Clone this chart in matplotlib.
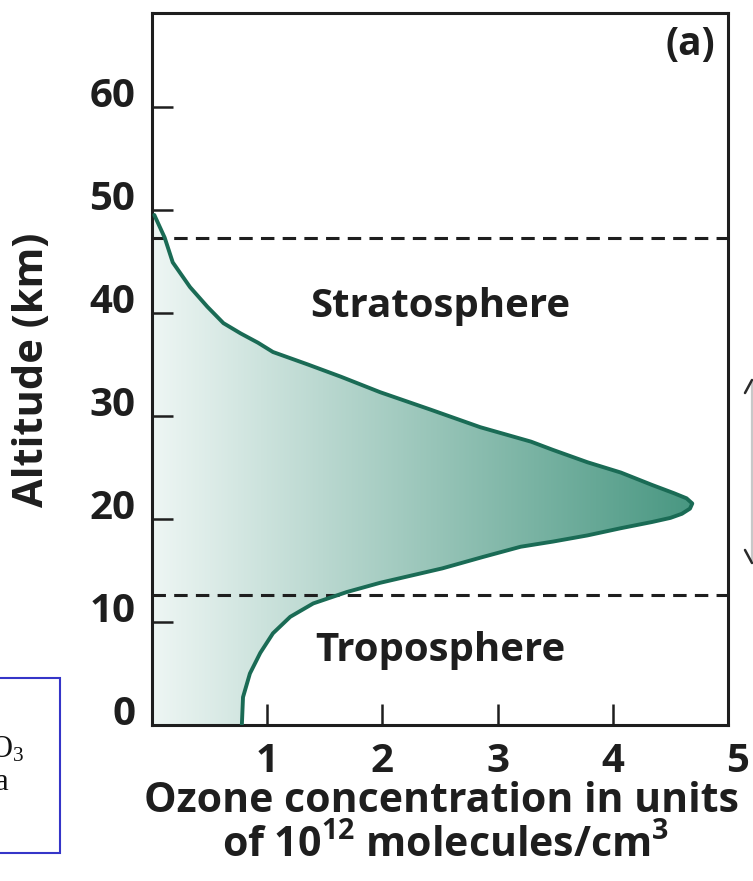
import numpy as np
import matplotlib
matplotlib.use('Agg')
import matplotlib.pyplot as plt
from matplotlib.colors import LinearSegmentedColormap
from matplotlib.patches import Polygon, Rectangle
from matplotlib.lines import Line2D
from matplotlib.transforms import ScaledTranslation

plt.rcParams['mathtext.default'] = 'regular'

# Ozone profile: altitude (km) vs concentration (10^12 molecules/cm^3)
altitude = [49.5, 47.3, 44.9, 42.5, 40.6, 39.0, 38.0, 37.1, 36.2, 35.0, 33.8,
            32.3, 30.6, 28.9, 27.5, 26.7, 25.5, 24.5, 23.3, 22.5, 22.0, 21.5,
            21.0, 20.5, 20.1, 19.7, 19.1, 18.4, 17.8, 17.3, 16.3, 15.2, 13.8,
            12.9, 11.8, 10.5, 8.9, 7.0, 5.0, 2.7, 0.0]
concentration = [0.02, 0.11, 0.18, 0.33, 0.48, 0.62, 0.77, 0.92, 1.05, 1.35, 1.64,
                 1.98, 2.42, 2.85, 3.29, 3.48, 3.78, 4.07, 4.34, 4.53, 4.64, 4.69,
                 4.67, 4.60, 4.50, 4.34, 4.07, 3.78, 3.48, 3.20, 2.87, 2.52, 1.98,
                 1.69, 1.40, 1.20, 1.05, 0.94, 0.85, 0.79, 0.78]

stratopause = 47.3
tropopause = 12.6

yticks = [0, 10, 20, 30, 40, 50, 60]
xticks = [1, 2, 3, 4, 5]

W, H = 753, 881
font = 'Open Sans'
ink = '#1e1e1e'
curve_col = '#1a6b55'

fig = plt.figure(figsize=(W / 100, H / 100), dpi=100, facecolor='white')
ax = fig.add_axes([152 / W, 1 - 725 / H, (728 - 152) / W, (725 - 13) / H])

# gradient fill under the profile (pale at the axis, deep teal at the peak)
cmap = LinearSegmentedColormap.from_list('ozone', ['#eef6f4', '#45957f'])
grad = np.linspace(0, 1, 256).reshape(1, -1)
img = ax.imshow(grad, cmap=cmap, extent=[0, 4.8, 0, 50], aspect='auto',
                origin='lower', zorder=1, interpolation='bicubic')
verts = [(0, altitude[0])] + list(zip(concentration, altitude)) + [(0, 0)]
clip = Polygon(verts, closed=True, transform=ax.transData, facecolor='none',
               edgecolor='none')
ax.add_patch(clip)
img.set_clip_path(clip)
ax.set_xlim(0, 5)
ax.set_ylim(0, 69.1)

ax.plot(concentration, altitude, color=curve_col, lw=2.8, zorder=3,
        solid_joinstyle='round', solid_capstyle='round')

for lvl in (stratopause, tropopause):
    ln, = ax.plot([0, 5], [lvl, lvl], color=ink, lw=2.2, zorder=2)
    ln.set_dashes((4.4, 2.7))

for s in ax.spines.values():
    s.set_linewidth(2.2)
    s.set_color(ink)

ax.set_xticks(xticks)
ax.set_yticks(yticks)
ax.tick_params(direction='in', length=15, width=1.8, color=ink,
               labelsize=29, labelcolor=ink)
ax.tick_params(axis='y', pad=12)
ax.tick_params(axis='x', pad=12)
for lab in ax.get_yticklabels() + ax.get_xticklabels():
    lab.set_fontfamily(font)
    lab.set_fontweight('bold')
for lab in ax.get_yticklabels():
    lab.set_va('baseline')
# the "5" sits a little right of the frame corner
last = ax.get_xticklabels()[-1]
last.set_transform(last.get_transform() +
                   ScaledTranslation(10 / 100, 0, fig.dpi_scale_trans))

txt = dict(fontfamily=font, fontweight='bold', color=ink)
ax.text(0.5, (725 - 306) / 712, 'Stratosphere', transform=ax.transAxes,
        ha='center', va='center', fontsize=29, **txt)
ax.text(0.5, (725 - 650) / 712, 'Troposphere', transform=ax.transAxes,
        ha='center', va='center', fontsize=29, **txt)
ax.text((690 - 152) / 576, (725 - 45) / 712, '(a)', transform=ax.transAxes,
        ha='center', va='center', fontsize=28, **txt)

fig.text(33 / W, 1 - 370 / H, 'Altitude (km)', rotation=90, ha='center',
         va='center', fontsize=30, **txt)
fig.text(442 / W, 1 - 802 / H, 'Ozone concentration in units', ha='center',
         va='center', fontsize=29.5, **txt)
fig.text(446 / W, 1 - 846 / H, 'of 10$^{12}$ molecules/cm$^{3}$', ha='center',
         va='center', fontsize=29.5, **txt)

# partial caption box at the lower left
fig.add_artist(Rectangle((-10 / W, 1 - 853 / H), 70 / W, 175 / H,
                         transform=fig.transFigure, fill=False,
                         edgecolor='#3535c8', lw=1.5))
fig.text(24 / W, 1 - 758 / H, 'O$_3$', ha='right', va='baseline',
         fontsize=22, fontfamily='Liberation Serif', color='#111111')
fig.text(9 / W, 1 - 790 / H, 'a', ha='right', va='baseline',
         fontsize=22, fontfamily='Liberation Serif', color='#111111')

# double arrow at the right edge (only its left half fits on the page)
ax_x = 752
fig.add_artist(Line2D([ax_x / W, ax_x / W], [1 - 560 / H, 1 - 383 / H],
                      transform=fig.transFigure, color='#c8c8c8', lw=1.6))
for tip_px, arm_px in ((380, 393), (563, 550)):
    fig.add_artist(Line2D([745 / W, ax_x / W], [1 - arm_px / H, 1 - tip_px / H],
                          transform=fig.transFigure, color='#2a2a2a', lw=1.8,
                          solid_capstyle='round'))

fig.savefig('out.png', dpi=100, facecolor='white')
